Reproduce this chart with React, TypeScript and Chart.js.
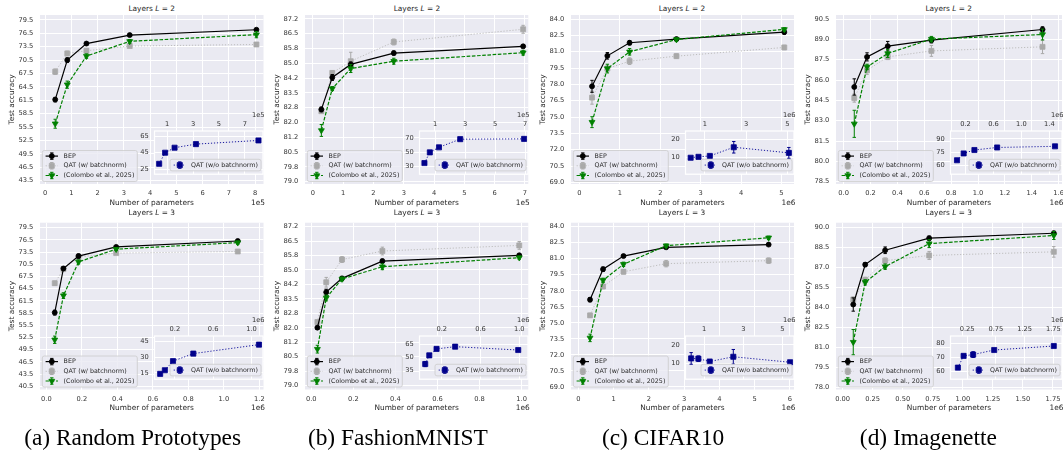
import React, { useEffect, useRef } from 'react';
import { Chart, registerables } from 'chart.js';
import { drawPoint } from 'chart.js/helpers';

Chart.register(...registerables);

// ================= DATA =================
// (a) Random Prototypes, L = 2 (parameters in units of 1e5)
const rpL2Params = [0.38, 0.84, 1.57, 3.22, 8.05];
const rpL2Bep = [61.65, 70.5, 74.2, 76.1, 77.3];
const rpL2BepErr = [0.5, 0.5, 0.3, 0.2, 0.3];
const rpL2Qat = [67.9, 72.0, 72.6, 73.65, 74.0];
const rpL2QatErr = [0.6, 0.5, 0.4, 0.3, 0.3];
const rpL2Col = [56.25, 65.0, 71.4, 74.7, 76.2];
const rpL2ColErr = [1.0, 0.8, 0.5, 0.4, 0.7];
const rpL2NoBn = [31.7, 45.0, 51.0, 55.3, 59.7];
const rpL2NoBnErr = [0.8, 0.8, 0.8, 0.8, 0.8];

// (b) FashionMNIST, L = 2 (1e5)
const fmL2Params = [0.28, 0.64, 1.25, 2.67, 6.94];
const fmL2Bep = [82.64, 84.25, 84.91, 85.48, 85.82];
const fmL2BepErr = [0.12, 0.15, 0.12, 0.1, 0.08];
const fmL2Qat = [82.55, 84.48, 85.07, 86.04, 86.68];
const fmL2QatErr = [0.1, 0.12, 0.45, 0.15, 0.2];
const fmL2Col = [81.58, 83.69, 84.7, 85.07, 85.5];
const fmL2ColErr = [0.3, 0.1, 0.2, 0.15, 0.12];
const fmL2NoBn = [34.8, 50.0, 57.2, 68.8, 69.2];
const fmL2NoBnErr = [2.0, 1.0, 1.0, 1.0, 1.0];

// (c) CIFAR10, L = 2 (1e6)
const cfL2Params = [0.31, 0.69, 1.24, 2.4, 5.07];
const cfL2Bep = [77.82, 80.62, 81.82, 82.16, 82.8];
const cfL2BepErr = [0.55, 0.3, 0.2, 0.1, 0.2];
const cfL2Qat = [76.78, 79.45, 80.13, 80.59, 81.39];
const cfL2QatErr = [0.6, 0.3, 0.3, 0.2, 0.2];
const cfL2Col = [74.53, 79.45, 80.99, 82.12, 83.05];
const cfL2ColErr = [0.5, 0.4, 0.3, 0.15, 0.15];
const cfL2NoBn = [10.0, 10.5, 11.0, 15.8, 12.7];
const cfL2NoBnErr = [0.5, 0.6, 1.0, 3.2, 3.0];

// (d) Imagenette, L = 2 (1e6)
const inL2Params = [0.079, 0.174, 0.328, 0.653, 1.48];
const inL2Bep = [85.49, 87.71, 88.5, 88.94, 89.73];
const inL2BepErr = [0.6, 0.3, 0.35, 0.2, 0.2];
const inL2Qat = [84.67, 86.72, 87.71, 88.15, 88.45];
const inL2QatErr = [0.3, 0.3, 0.2, 0.4, 0.5];
const inL2Col = [82.77, 86.97, 87.96, 89.02, 89.36];
const inL2ColErr = [1.0, 0.2, 0.3, 0.2, 0.4];
const inL2NoBn = [65.6, 73.4, 77.3, 80.2, 81.5];
const inL2NoBnErr = [1.0, 1.0, 1.0, 1.0, 1.0];

// (a) Random Prototypes, L = 3 (1e6)
const rpL3Params = [0.047, 0.096, 0.181, 0.393, 1.078];
const rpL3Bep = [58.6, 69.45, 72.5, 74.76, 76.2];
const rpL3BepErr = [0.6, 0.4, 0.5, 0.3, 0.4];
const rpL3Qat = [65.83, 69.3, 72.26, 73.23, 73.63];
const rpL3QatErr = [0.5, 0.4, 0.3, 0.3, 0.3];
const rpL3Col = [51.93, 62.78, 71.06, 74.2, 75.8];
const rpL3ColErr = [0.9, 0.7, 0.5, 0.3, 0.4];
const rpL3NoBn = [14.2, 17.6, 26.1, 33.2, 41.6];
const rpL3NoBnErr = [0.8, 0.8, 0.8, 0.8, 0.8];

// (b) FashionMNIST, L = 3 (1e6)
const fmL3Params = [0.029, 0.071, 0.146, 0.338, 0.989];
const fmL3Bep = [81.99, 83.82, 84.53, 85.42, 85.72];
const fmL3BepErr = [0.08, 0.15, 0.1, 0.1, 0.08];
const fmL3Qat = [82.28, 84.33, 85.5, 85.94, 86.23];
const fmL3QatErr = [0.1, 0.25, 0.15, 0.2, 0.2];
const fmL3Col = [80.88, 83.52, 84.5, 85.13, 85.6];
const fmL3ColErr = [0.2, 0.15, 0.1, 0.15, 0.08];
const fmL3NoBn = [42.2, 52.3, 59.8, 62.4, 58.5];
const fmL3NoBnErr = [3.0, 1.5, 1.0, 1.0, 0.8];

// (c) CIFAR10, L = 3 (1e6)
const cfL3Params = [0.33, 0.7, 1.28, 2.49, 5.4];
const cfL3Bep = [77.17, 80.02, 81.25, 82.07, 82.32];
const cfL3BepErr = [0.2, 0.2, 0.1, 0.1, 0.08];
const cfL3Qat = [75.7, 78.4, 79.78, 80.54, 80.82];
const cfL3QatErr = [0.2, 0.2, 0.2, 0.3, 0.25];
const cfL3Col = [73.59, 78.98, 80.48, 82.22, 82.96];
const cfL3ColErr = [0.35, 0.2, 0.2, 0.15, 0.15];
const cfL3NoBn = [12.6, 12.46, 10.9, 13.5, 10.5];
const cfL3NoBnErr = [3.2, 1.5, 0.6, 4.0, 0.5];

// (d) Imagenette, L = 3 (1e6)
const inL3Params = [0.0885, 0.188, 0.354, 0.72, 1.757];
const inL3Bep = [84.22, 87.22, 88.3, 89.21, 89.58];
const inL3BepErr = [0.5, 0.15, 0.25, 0.15, 0.15];
const inL3Qat = [84.59, 86.07, 87.52, 87.91, 88.18];
const inL3QatErr = [0.2, 0.2, 0.2, 0.3, 0.4];
const inL3Col = [81.39, 85.89, 87.07, 88.8, 89.41];
const inL3ColErr = [0.95, 0.2, 0.2, 0.3, 0.3];
const inL3NoBn = [62.8, 71.0, 71.9, 75.1, 77.9];
const inL3NoBnErr = [0.8, 1.0, 2.0, 0.8, 0.8];

// Tick labels
const yTicksRpL2 = ['79.5', '76.5', '73.5', '70.5', '67.5', '64.5', '61.5', '58.5', '55.5', '52.5', '49.5', '46.5', '43.5'];
const yTicksFm = ['87.2', '86.5', '85.8', '85.0', '84.2', '83.5', '82.8', '82.0', '81.2', '80.5', '79.8', '79.0'];
const yTicksCf = ['84.0', '82.5', '81.0', '79.5', '78.0', '76.5', '75.0', '73.5', '72.0', '70.5', '69.0'];
const yTicksInL2 = ['90.5', '89.0', '87.5', '86.0', '84.5', '83.0', '81.5', '80.0', '78.5'];
const yTicksRpL3 = ['79.5', '76.5', '73.5', '70.5', '67.5', '64.5', '61.5', '58.5', '55.5', '52.5', '49.5', '46.5', '43.5', '40.5'];
const yTicksInL3 = ['90.0', '88.5', '87.0', '85.5', '84.0', '82.5', '81.0', '79.5', '78.0'];

const xTicksRpL2 = ['0', '1', '2', '3', '4', '5', '6', '7', '8'];
const xTicksFmL2 = ['0', '1', '2', '3', '4', '5', '6', '7'];
const xTicksCfL2 = ['0', '1', '2', '3', '4', '5'];
const xTicksInL2 = ['0.0', '0.2', '0.4', '0.6', '0.8', '1.0', '1.2', '1.4', '1.6'];
const xTicksRpL3 = ['0.0', '0.2', '0.4', '0.6', '0.8', '1.0', '1.2'];
const xTicksFmL3 = ['0.0', '0.2', '0.4', '0.6', '0.8', '1.0'];
const xTicksCfL3 = ['0', '1', '2', '3', '4', '5', '6'];
const xTicksInL3 = ['0.00', '0.25', '0.50', '0.75', '1.00', '1.25', '1.50', '1.75'];

const insetXTicksA = ['1', '3', '5', '7'];
const insetXTicksC = ['1', '3', '5'];
const insetXTicksIn2 = ['0.2', '0.6', '1.0', '1.4'];
const insetXTicksSmall = ['0.2', '0.6', '1.0'];
const insetXTicksIn3 = ['0.25', '0.75', '1.25', '1.75'];

const insetYTicksRpL2 = ['25', '45', '65'];
const insetYTicksFmL2 = ['30', '50', '70'];
const insetYTicksCf = ['10', '20'];
const insetYTicksInL2 = ['60', '75', '90'];
const insetYTicksRpL3 = ['15', '30', '45'];
const insetYTicksFmL3 = ['35', '50', '65'];
const insetYTicksInL3 = ['60', '70', '80'];

const layerTitles = ['2', '3'];
const captions = ['(a) Random Prototypes', '(b) FashionMNIST', '(c) CIFAR10', '(d) Imagenette'];
const labelBep = 'BEP';
const labelQat = 'QAT (w/ batchnorm)';
const labelCol = '(Colombo et al., 2025)';
const labelNoBn = 'QAT (w/o batchnorm)';

// ================= STYLES =================
const FONT = '"DejaVu Sans", Verdana, sans-serif';
const AX_BG = '#EAEAF2';
const TEXT = '#262626';
const TICK = '#333333';
const CAP = 1.7;

type Style = {
  label: string; color: string; lineColor: string; dash: number[];
  pointStyle: string; radius: number; rotation: number; lineWidth: number;
};
const S_BEP: Style = { label: labelBep, color: '#000000', lineColor: '#000000', dash: [], pointStyle: 'circle', radius: 2.5, rotation: 0, lineWidth: 1.2 };
const S_QAT: Style = { label: labelQat, color: '#A9A9A9', lineColor: '#BEBEBE', dash: [1.2, 1.8], pointStyle: 'rect', radius: 3.5, rotation: 0, lineWidth: 1 };
const S_COL: Style = { label: labelCol, color: '#008000', lineColor: '#008000', dash: [3.6, 1.6], pointStyle: 'triangle', radius: 3.4, rotation: 180, lineWidth: 1.2 };
const S_NOBN: Style = { label: labelNoBn, color: '#00008B', lineColor: '#1A1AA0', dash: [1.2, 1.8], pointStyle: 'rect', radius: 3.6, rotation: 0, lineWidth: 1 };

type Panel = {
  params: number[];
  bep: number[]; bepErr: number[]; qat: number[]; qatErr: number[];
  col: number[]; colErr: number[]; noBn: number[]; noBnErr: number[];
  xRange: [number, number]; yRange: [number, number];
  xTicks: string[]; yTicks: string[]; offset: string;
  inXRange: [number, number]; inYRange: [number, number];
  inXTicks: string[]; inYTicks: string[];
};

const topPanels: Panel[] = [
  { params: rpL2Params, bep: rpL2Bep, bepErr: rpL2BepErr, qat: rpL2Qat, qatErr: rpL2QatErr, col: rpL2Col, colErr: rpL2ColErr, noBn: rpL2NoBn, noBnErr: rpL2NoBnErr,
    xRange: [-0.2, 8.32], yRange: [42.75, 80.6], xTicks: xTicksRpL2, yTicks: yTicksRpL2, offset: '1e5',
    inXRange: [0.02, 8.4], inYRange: [19.3, 71], inXTicks: insetXTicksA, inYTicks: insetYTicksRpL2 },
  { params: fmL2Params, bep: fmL2Bep, bepErr: fmL2BepErr, qat: fmL2Qat, qatErr: fmL2QatErr, col: fmL2Col, colErr: fmL2ColErr, noBn: fmL2NoBn, noBnErr: fmL2NoBnErr,
    xRange: [-0.26, 7.11], yRange: [78.88, 87.4], xTicks: xTicksFmL2, yTicks: yTicksFm, offset: '1e5',
    inXRange: [-0.05, 7.2], inYRange: [19, 80.4], inXTicks: insetXTicksA, inYTicks: insetYTicksFmL2 },
  { params: cfL2Params, bep: cfL2Bep, bepErr: cfL2BepErr, qat: cfL2Qat, qatErr: cfL2QatErr, col: cfL2Col, colErr: cfL2ColErr, noBn: cfL2NoBn, noBnErr: cfL2NoBnErr,
    xRange: [-0.21, 5.31], yRange: [68.85, 84.37], xTicks: xTicksCfL2, yTicks: yTicksCf, offset: '1e6',
    inXRange: [0.06, 5.32], inYRange: [0.9, 24.8], inXTicks: insetXTicksC, inYTicks: insetYTicksCf },
  { params: inL2Params, bep: inL2Bep, bepErr: inL2BepErr, qat: inL2Qat, qatErr: inL2QatErr, col: inL2Col, colErr: inL2ColErr, noBn: inL2NoBn, noBnErr: inL2NoBnErr,
    xRange: [-0.057, 1.625], yRange: [78.33, 90.8], xTicks: xTicksInL2, yTicks: yTicksInL2, offset: '1e6',
    inXRange: [-0.014, 1.58], inYRange: [49.7, 99], inXTicks: insetXTicksIn2, inYTicks: insetYTicksInL2 },
];

const bottomPanels: Panel[] = [
  { params: rpL3Params, bep: rpL3Bep, bepErr: rpL3BepErr, qat: rpL3Qat, qatErr: rpL3QatErr, col: rpL3Col, colErr: rpL3ColErr, noBn: rpL3NoBn, noBnErr: rpL3NoBnErr,
    xRange: [-0.036, 1.223], yRange: [39.7, 80.7], xTicks: xTicksRpL3, yTicks: yTicksRpL3, offset: '1e6',
    inXRange: [-0.012, 1.12], inYRange: [9.2, 49.7], inXTicks: insetXTicksSmall, inYTicks: insetYTicksRpL3 },
  { params: fmL3Params, bep: fmL3Bep, bepErr: fmL3BepErr, qat: fmL3Qat, qatErr: fmL3QatErr, col: fmL3Col, colErr: fmL3ColErr, noBn: fmL3NoBn, noBnErr: fmL3NoBnErr,
    xRange: [-0.03, 1.032], yRange: [78.8, 87.4], xTicks: xTicksFmL3, yTicks: yTicksFm, offset: '1e6',
    inXRange: [-0.03, 1.09], inYRange: [24.6, 74.8], inXTicks: insetXTicksSmall, inYTicks: insetYTicksFmL3 },
  { params: cfL3Params, bep: cfL3Bep, bepErr: cfL3BepErr, qat: cfL3Qat, qatErr: cfL3QatErr, col: cfL3Col, colErr: cfL3ColErr, noBn: cfL3NoBn, noBnErr: cfL3NoBnErr,
    xRange: [-0.21, 6.12], yRange: [68.76, 84.37], xTicks: xTicksCfL3, yTicks: yTicksCf, offset: '1e6',
    inXRange: [0.04, 5.6], inYRange: [1.2, 24.9], inXTicks: insetXTicksC, inYTicks: insetYTicksCf },
  { params: inL3Params, bep: inL3Bep, bepErr: inL3BepErr, qat: inL3Qat, qatErr: inL3QatErr, col: inL3Col, colErr: inL3ColErr, noBn: inL3NoBn, noBnErr: inL3NoBnErr,
    xRange: [-0.055, 1.825], yRange: [77.83, 90.37], xTicks: xTicksInL3, yTicks: yTicksInL3, offset: '1e6',
    inXRange: [-0.04, 1.9], inYRange: [54.7, 84.9], inXTicks: insetXTicksIn3, inYTicks: insetYTicksInL3 },
];

// ================= GEOMETRY =================
const COL_X = [0, 265.25, 530.5, 795.75];
const AREA_LEFT = 40;
const AREA_RIGHT = [263.5, 263.3, 263, 266];
const CANVAS_W = 282;
const ROWS = [
  { canvasTop: 0, canvasH: 212, areaTop: 15, areaBottom: 184, titleY: 9, insetTop: 130.7, insetH: 51 },
  { canvasTop: 212, canvasH: 200, areaTop: 8, areaBottom: 177.5, titleY: 213.3, insetTop: 336, insetH: 51.3 },
];

// ================= PLUGINS =================
const errorBarPlugin = {
  id: 'errbars',
  beforeDatasetDraw(chart: any, args: any) {
    const ds = chart.data.datasets[args.index];
    const errs: number[] = ds.errors;
    if (!errs) return;
    const yScale = chart.scales[args.meta.yAxisID];
    const ctx = chart.ctx;
    ctx.save();
    ctx.strokeStyle = ds.errColor;
    ctx.lineWidth = 1;
    ctx.setLineDash([]);
    args.meta.data.forEach((pt: any, i: number) => {
      const e = errs[i];
      if (!e) return;
      const v = ds.data[i].y;
      const y1 = yScale.getPixelForValue(v - e);
      const y2 = yScale.getPixelForValue(v + e);
      const x = pt.x;
      ctx.beginPath();
      ctx.moveTo(x, y1); ctx.lineTo(x, y2);
      ctx.moveTo(x - CAP, y1); ctx.lineTo(x + CAP, y1);
      ctx.moveTo(x - CAP, y2); ctx.lineTo(x + CAP, y2);
      ctx.stroke();
    });
    ctx.restore();
  },
};

function drawLegendBox(ctx: CanvasRenderingContext2D, x: number, y: number, w: number, h: number) {
  const r = 2;
  ctx.beginPath();
  ctx.moveTo(x + r, y);
  ctx.lineTo(x + w - r, y);
  ctx.arcTo(x + w, y, x + w, y + r, r);
  ctx.lineTo(x + w, y + h - r);
  ctx.arcTo(x + w, y + h, x + w - r, y + h, r);
  ctx.lineTo(x + r, y + h);
  ctx.arcTo(x, y + h, x, y + h - r, r);
  ctx.lineTo(x, y + r);
  ctx.arcTo(x, y, x + r, y, r);
  ctx.closePath();
  ctx.fillStyle = 'rgba(234,234,242,0.8)';
  ctx.fill();
  ctx.strokeStyle = '#CCCCCC';
  ctx.lineWidth = 0.8;
  ctx.stroke();
}

function drawLegendEntry(ctx: CanvasRenderingContext2D, st: Style, x0: number, x1: number, xm: number, y: number, tx: number) {
  ctx.save();
  ctx.strokeStyle = st.lineColor;
  ctx.lineWidth = st.lineWidth;
  ctx.setLineDash(st.dash);
  ctx.beginPath(); ctx.moveTo(x0, y); ctx.lineTo(x1, y); ctx.stroke();
  ctx.setLineDash([]);
  ctx.strokeStyle = st.color;
  ctx.lineWidth = 1;
  ctx.beginPath();
  ctx.moveTo(xm, y - 3.2); ctx.lineTo(xm, y + 3.2);
  ctx.moveTo(xm - CAP, y - 3.2); ctx.lineTo(xm + CAP, y - 3.2);
  ctx.moveTo(xm - CAP, y + 3.2); ctx.lineTo(xm + CAP, y + 3.2);
  ctx.stroke();
  ctx.fillStyle = st.color;
  ctx.lineWidth = 0.8;
  drawPoint(ctx, { pointStyle: st.pointStyle as any, rotation: st.rotation, radius: st.radius, borderWidth: 0.8 } as any, xm, y);
  ctx.fillStyle = TEXT;
  ctx.font = `6.3px ${FONT}`;
  ctx.textBaseline = 'middle';
  ctx.textAlign = 'left';
  ctx.fillText(st.label, tx, y);
  ctx.restore();
}

function makeExtras(kind: 'main' | 'inset', offset: string) {
  return {
    id: 'extras',
    beforeDraw(chart: any) {
      const { ctx, chartArea: a } = chart;
      ctx.save();
      ctx.fillStyle = AX_BG;
      ctx.fillRect(a.left, a.top, a.right - a.left, a.bottom - a.top);
      ctx.restore();
    },
    afterDraw(chart: any) {
      const { ctx, chartArea: a } = chart;
      ctx.save();
      ctx.fillStyle = TEXT;
      if (kind === 'main') {
        ctx.font = `7.4px ${FONT}`;
        ctx.textAlign = 'center';
        ctx.textBaseline = 'middle';
        ctx.fillText('Number of parameters', (a.left + a.right) / 2, a.bottom + 19);
        ctx.textAlign = 'right';
        ctx.fillText(offset, a.right + 1.5, a.bottom + 19);
        ctx.save();
        ctx.translate(11.7, (a.top + a.bottom) / 2);
        ctx.rotate(-Math.PI / 2);
        ctx.textAlign = 'center';
        ctx.fillText('Test accuracy', 0, 0);
        ctx.restore();
        const bw = 95, bh = 31;
        const bx = a.left + 2.3, by = a.bottom - 2.5 - bh;
        drawLegendBox(ctx, bx, by, bw, bh);
        [S_BEP, S_QAT, S_COL].forEach((st, i) => {
          drawLegendEntry(ctx, st, bx + 3.3, bx + 15.7, bx + 9.5, by + 5.6 + i * 9.7, bx + 21.3);
        });
      } else {
        ctx.strokeStyle = '#FFFFFF';
        ctx.lineWidth = 1.25;
        ctx.strokeRect(a.left, a.top, a.right - a.left, a.bottom - a.top);
        ctx.font = `6.7px ${FONT}`;
        ctx.fillStyle = TICK;
        ctx.textAlign = 'right';
        ctx.textBaseline = 'middle';
        ctx.fillText(offset, a.right + 1.5, a.top - 15.5);
        const bw = 91, bh = 11.6;
        const bx = a.right - 2 - bw, by = a.bottom - 3.3 - bh;
        drawLegendBox(ctx, bx, by, bw, bh);
        drawLegendEntry(ctx, S_NOBN, bx + 3.7, bx + 15.7, bx + 9.8, by + bh / 2, bx + 21);
      }
      ctx.restore();
    },
  };
}

function makeDataset(st: Style, xs: number[], ys: number[], errs: number[], order: number) {
  return {
    label: st.label,
    data: xs.map((x, i) => ({ x, y: ys[i] })),
    errors: errs,
    errColor: st.color,
    showLine: true,
    borderColor: st.lineColor,
    borderWidth: st.lineWidth,
    borderDash: st.dash,
    backgroundColor: st.color,
    pointBackgroundColor: st.color,
    pointBorderColor: st.color,
    pointBorderWidth: 0.8,
    pointRadius: st.radius,
    pointStyle: st.pointStyle,
    pointRotation: st.rotation,
    order,
  };
}

function evenTicks(labels: string[]) {
  const first = parseFloat(labels[0]);
  const last = parseFloat(labels[labels.length - 1]);
  const n = labels.length;
  return labels.map((_, i) => first + (i * (last - first)) / (n - 1));
}

function scaleBase(min: number, max: number, values: number[], labels: string[], padding: number) {
  return {
    type: 'linear',
    min,
    max,
    afterBuildTicks: (s: any) => { s.ticks = values.map((v) => ({ value: v })); },
    ticks: {
      autoSkip: false,
      maxRotation: 0,
      minRotation: 0,
      padding,
      color: TICK,
      font: { family: FONT, size: 6.7 },
      callback: (_v: any, i: number) => labels[i],
    },
    grid: { color: '#FFFFFF', lineWidth: 1, drawTicks: false },
    border: { display: false },
  };
}

function mainConfig(p: Panel, rowIdx: number, colIdx: number): any {
  const row = ROWS[rowIdx];
  const right = AREA_RIGHT[colIdx];
  const xs = scaleBase(p.xRange[0], p.xRange[1], p.xTicks.map(Number), p.xTicks, 5.5);
  const ys = scaleBase(p.yRange[0], p.yRange[1], evenTicks(p.yTicks), p.yTicks, 6.7);
  return {
    type: 'scatter',
    data: {
      datasets: [
        makeDataset(S_BEP, p.params, p.bep, p.bepErr, 1),
        makeDataset(S_QAT, p.params, p.qat, p.qatErr, 2),
        makeDataset(S_COL, p.params, p.col, p.colErr, 0),
      ],
    },
    options: {
      responsive: false,
      animation: false,
      devicePixelRatio: 1,
      events: [],
      layout: { padding: { left: 0, top: row.areaTop, right: CANVAS_W - right, bottom: 0 } },
      plugins: { legend: { display: false }, tooltip: { enabled: false }, title: { display: false } },
      scales: {
        x: { ...xs, position: 'bottom', afterFit: (s: any) => { s.height = row.canvasH - row.areaBottom; } },
        y: { ...ys, position: 'left', afterFit: (s: any) => { s.width = AREA_LEFT; } },
      },
    },
    plugins: [makeExtras('main', p.offset), errorBarPlugin],
  };
}

const INSET_CANVAS_LEFT = 128;
const INSET_BOX_LEFT = 154.5;
const INSET_TOP_AXIS = 24;
const INSET_PAD_RIGHT = 15;

function insetConfig(p: Panel): any {
  const xs = scaleBase(p.inXRange[0], p.inXRange[1], p.inXTicks.map(Number), p.inXTicks, 2.4);
  const ys = scaleBase(p.inYRange[0], p.inYRange[1], p.inYTicks.map(Number), p.inYTicks, 5.8);
  return {
    type: 'scatter',
    data: { datasets: [makeDataset(S_NOBN, p.params, p.noBn, p.noBnErr, 0)] },
    options: {
      responsive: false,
      animation: false,
      devicePixelRatio: 1,
      events: [],
      layout: { padding: { left: 0, top: 0, right: INSET_PAD_RIGHT, bottom: 2 } },
      plugins: { legend: { display: false }, tooltip: { enabled: false }, title: { display: false } },
      scales: {
        x: { ...xs, position: 'top', afterFit: (s: any) => { s.height = INSET_TOP_AXIS; } },
        y: { ...ys, position: 'left', afterFit: (s: any) => { s.width = INSET_BOX_LEFT - INSET_CANVAS_LEFT; } },
      },
    },
    plugins: [makeExtras('inset', p.offset), errorBarPlugin],
  };
}

function ChartCanvas({ config, left, top, width, height }: { config: () => any; left: number; top: number; width: number; height: number }) {
  const ref = useRef<HTMLCanvasElement>(null);
  useEffect(() => {
    const chart = new Chart(ref.current as HTMLCanvasElement, config());
    return () => chart.destroy();
  }, []);
  return (
    <canvas
      ref={ref}
      width={width}
      height={height}
      style={{ position: 'absolute', left, top, width, height, display: 'block' }}
    />
  );
}

export default function App() {
  const rows = [topPanels, bottomPanels];
  return (
    <div style={{ position: 'absolute', left: 0, top: 0, width: 1063, height: 450, overflow: 'hidden', background: '#FFFFFF' }}>
      {rows.map((panels, r) =>
        panels.map((p, c) => {
          const row = ROWS[r];
          const cx = COL_X[c];
          const insetRight = AREA_RIGHT[c] - 0.5;
          const insetW = insetRight - INSET_CANVAS_LEFT + INSET_PAD_RIGHT;
          return (
            <React.Fragment key={`${r}-${c}`}>
              <div
                style={{
                  position: 'absolute', left: cx + AREA_LEFT, width: AREA_RIGHT[c] - AREA_LEFT,
                  top: row.titleY - 5, height: 10, lineHeight: '10px', textAlign: 'center',
                  fontFamily: FONT, fontSize: 7.4, color: TEXT, whiteSpace: 'nowrap',
                }}
              >
                Layers <i>L</i> = {layerTitles[r]}
              </div>
              <ChartCanvas config={() => mainConfig(p, r, c)} left={cx} top={row.canvasTop} width={CANVAS_W} height={row.canvasH} />
              <ChartCanvas
                config={() => insetConfig(p)}
                left={cx + INSET_CANVAS_LEFT}
                top={row.insetTop - INSET_TOP_AXIS}
                width={Math.round(insetW)}
                height={Math.round(INSET_TOP_AXIS + row.insetH + 2)}
              />
            </React.Fragment>
          );
        })
      )}
      {captions.map((t, c) => (
        <div
          key={t}
          style={{
            position: 'absolute', left: COL_X[c], width: 265.25, top: 424, height: 26, lineHeight: '26px',
            textAlign: 'center', fontFamily: '"Liberation Serif", "Times New Roman", serif', fontSize: 23.4,
            color: '#000', whiteSpace: 'nowrap',
          }}
        >
          {t}
        </div>
      ))}
    </div>
  );
}
